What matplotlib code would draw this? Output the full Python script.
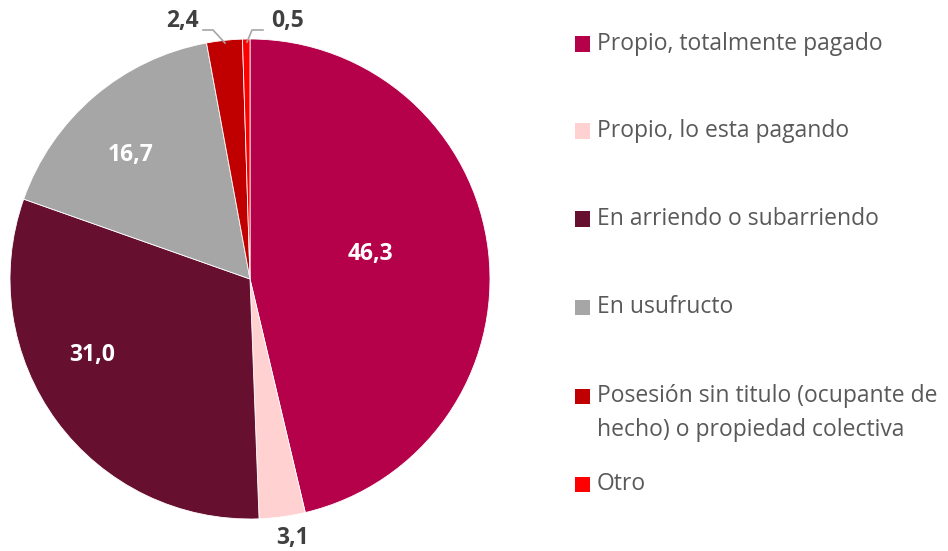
import matplotlib
matplotlib.use("Agg")
import matplotlib.pyplot as plt
from matplotlib.patches import Rectangle

plt.rcParams['font.family'] = ['Open Sans', 'DejaVu Sans']

categories = ["Propio, totalmente pagado", "Propio, lo esta pagando",
              "En arriendo o subarriendo", "En usufructo",
              "Posesión sin titulo (ocupante de\nhecho) o propiedad colectiva", "Otro"]
values = [46.3, 3.1, 31.0, 16.7, 2.4, 0.5]
value_labels = ["46,3", "3,1", "31,0", "16,7", "2,4", "0,5"]
colors = ["#B5004A", "#FFD1D1", "#660F2E", "#A6A6A6", "#C00000", "#FF0000"]

W, H = 948, 551
fig = plt.figure(figsize=(W / 100, H / 100), dpi=100)
cx, cy, R = 250, 279, 240
ax = fig.add_axes([(cx - R) / W, (H - cy - R) / H, 2 * R / W, 2 * R / H])
ax.pie(values, colors=colors, startangle=90, counterclock=False, radius=1,
       wedgeprops=dict(edgecolor="white", linewidth=0.6))
ax.set_xlim(-1, 1)
ax.set_ylim(-1, 1)
ax.set_aspect("equal")
ax.axis("off")

def d(px, py):
    return ((px - cx) / R, (cy - py) / R)

label_pos = [d(370, 254), d(293, 538), d(92, 355), d(131, 155), d(182, 21), d(288, 21)]
label_col = ["white", "#404040", "white", "white", "#404040", "#404040"]
for txt, pos, c in zip(value_labels, label_pos, label_col):
    ax.text(pos[0], pos[1], txt, ha="center", va="center", color=c,
            fontsize=16.5, fontweight="bold", clip_on=False)

# leader lines
for pts in [[(203, 30), (213, 30), (225, 43)], [(263, 30), (252, 30), (247, 42)]]:
    xs, ys = zip(*[d(*p) for p in pts])
    ax.plot(xs, ys, color="#A6A6A6", lw=1.2, clip_on=False)

# legend
leg_y = [44, 131, 219, 307, 396, 484]
for cat, c, y in zip(categories, colors, leg_y):
    fig.patches.append(Rectangle((575 / W, (H - y - 7.5) / H), 15 / W, 15 / H,
                                 transform=fig.transFigure, facecolor=c, edgecolor="none"))
    lines = cat.split("\n")
    for i, ln in enumerate(lines):
        fig.text(597 / W, (H - y - 34 * i) / H, ln, ha="left", va="center",
                 fontsize=16.5, color="#595959")

fig.savefig("out.png", dpi=100)
